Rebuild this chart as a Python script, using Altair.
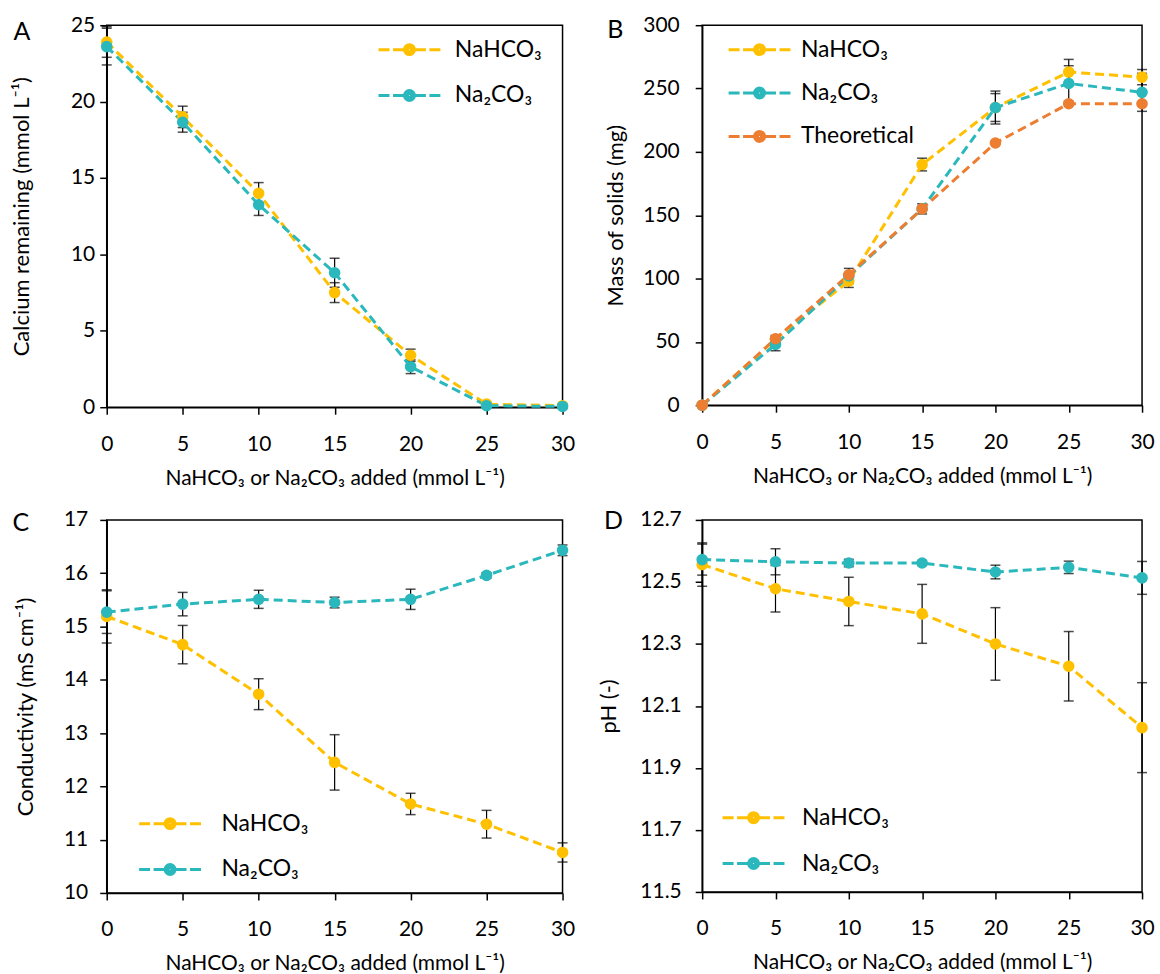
import altair as alt
import pandas as pd

FONT = "Lato, 'DejaVu Sans', sans-serif"

# ---------------- data ----------------
x_vals = [0, 5, 10, 15, 20, 25, 30]
s_bicarb = "NaHCO₃"
s_carb = "Na₂CO₃"
s_theo = "Theoretical"
series_all = [s_bicarb, s_carb, s_theo]
colors_all = ["#FFC000", "#2AB8BC", "#ED7D31"]

# A: calcium remaining (mmol/L)
ca_bicarb = [23.9, 19.0, 14.0, 7.5, 3.4, 0.2, 0.1]
ca_bicarb_err = [1.0, 0.7, 0.7, 0.65, 0.4, 0.05, 0.05]
ca_carb = [23.6, 18.65, 13.25, 8.8, 2.65, 0.1, 0.05]
ca_carb_err = [1.2, 0.65, 0.7, 0.95, 0.45, 0.05, 0.05]

# B: mass of solids (mg)
mass_bicarb = [0, 52, 98, 190, 235, 263, 259]
mass_bicarb_err = [0, 3, 5, 5, 13, 10, 6]
mass_carb = [0, 48, 102, 155, 235, 254, 247]
mass_carb_err = [0, 5, 6, 4, 11, 14, 15]
mass_theo = [0, 52.5, 103, 155, 207, 238, 238]
mass_theo_err = [0, 0, 0, 0, 0, 0, 0]

# C: conductivity (mS/cm)
cond_bicarb = [15.19, 14.66, 13.73, 12.45, 11.67, 11.29, 10.76]
cond_bicarb_err = [0.5, 0.36, 0.29, 0.52, 0.2, 0.26, 0.18]
cond_carb = [15.27, 15.42, 15.51, 15.45, 15.51, 15.96, 16.43]
cond_carb_err = [0.4, 0.22, 0.17, 0.1, 0.19, 0.05, 0.1]

# D: pH
ph_bicarb = [12.556, 12.478, 12.437, 12.397, 12.30, 12.228, 12.03]
ph_bicarb_err = [0.07, 0.075, 0.078, 0.095, 0.117, 0.112, 0.145]
ph_carb = [12.572, 12.565, 12.561, 12.561, 12.532, 12.547, 12.513]
ph_carb_err = [0.05, 0.042, 0.012, 0.008, 0.022, 0.02, 0.053]

x_title = "NaHCO₃ or Na₂CO₃ added (mmol L⁻¹)"


def build_df(series):
    rows = []
    for name, ys, errs in series:
        for xv, yv, ev in zip(x_vals, ys, errs):
            rows.append({"x": xv, "y": yv, "err": ev, "series": name,
                         "lo": yv - ev, "hi": yv + ev})
    return pd.DataFrame(rows)


# legend symbol: dashed line with a filled dot (dot built from concentric stroked rings)
def ring(r):
    return f"M{r:.3f},0A{r:.3f},{r:.3f},0,1,1,{-r:.3f},0A{r:.3f},{r:.3f},0,1,1,{r:.3f},0Z"

LEG_PATH = ("M-4.43,0L-2.86,0M-2.36,0L-0.57,0M0.57,0L2.36,0M2.86,0L4.43,0"
            + ring(0.714) + ring(0.429) + ring(0.143))


def panel(series, ytitle, ydom, yticks, yfmt, width, height, leg, letter, ypad):
    df = build_df(series)
    names = [s[0] for s in series]
    cols = [colors_all[series_all.index(n)] for n in names]
    base = alt.Chart(df)
    X = alt.X("x:Q", title=x_title,
              scale=alt.Scale(domain=[0, 30], nice=False, zero=False),
              axis=alt.Axis(values=x_vals, labelFlush=False, labelOverlap=False))
    Y = alt.Y("y:Q", title=ytitle,
              scale=alt.Scale(domain=ydom, nice=False, zero=False),
              axis=alt.Axis(values=yticks, format=yfmt, labelOverlap=False,
                            labelPadding=ypad[0], titlePadding=ypad[1]))
    eb = base.transform_filter("datum.err > 0")
    rules = eb.mark_rule(color="black", strokeWidth=1.2).encode(
        x="x:Q", y="lo:Q", y2="hi:Q")
    cap_lo = eb.mark_tick(orient="horizontal", color="black", size=10, thickness=1.5).encode(
        x="x:Q", y="lo:Q")
    cap_hi = eb.mark_tick(orient="horizontal", color="black", size=10, thickness=1.5).encode(
        x="x:Q", y="hi:Q")
    line = base.mark_line(strokeDash=[9, 5], strokeWidth=3).encode(
        x=X, y=Y,
        color=alt.Color("series:N", sort=names,
                        scale=alt.Scale(domain=names, range=cols),
                        legend=alt.Legend(
                            title=None, orient="none",
                            legendX=leg["x"], legendY=leg["y"],
                            symbolType=LEG_PATH, symbolSize=196,
                            symbolStrokeWidth=3, symbolOpacity=1,
                            labelFont=FONT, labelFontSize=23, labelColor="black",
                            labelOffset=leg["lo"], rowPadding=leg["rp"],
                            padding=0)),
        detail="series:N")
    pts = base.mark_circle(size=135, opacity=1).encode(
        x="x:Q", y="y:Q",
        fill=alt.Fill("series:N", scale=alt.Scale(domain=series_all, range=colors_all),
                      legend=None))
    lt = alt.Chart(pd.DataFrame({"t": [letter["t"]]})).mark_text(
        font=FONT, fontSize=25, color="black", align="center", baseline="middle"
    ).encode(text="t:N", x=alt.value(letter["x"]), y=alt.value(letter["y"]))
    return alt.layer(rules, cap_lo, cap_hi, line, pts, lt).properties(
        width=width, height=height)


pA = panel([(s_bicarb, ca_bicarb, ca_bicarb_err), (s_carb, ca_carb, ca_carb_err)],
           "Calcium remaining (mmol L⁻¹)", [0, 25], [0, 5, 10, 15, 20, 25], "d",
           457, 383, {"x": 292, "y": 13, "lo": 34, "rp": 22}, {"t": "A", "x": -85, "y": 7},
           (5, 37))
pB = panel([(s_bicarb, mass_bicarb, mass_bicarb_err), (s_carb, mass_carb, mass_carb_err),
            (s_theo, mass_theo, mass_theo_err)],
           "Mass of solids (mg)", [0, 300], [0, 50, 100, 150, 200, 250, 300], "d",
           441, 381, {"x": 46, "y": 13, "lo": 30, "rp": 19.5}, {"t": "B", "x": -87, "y": 5},
           (16, 15))
pC = panel([(s_bicarb, cond_bicarb, cond_bicarb_err), (s_carb, cond_carb, cond_carb_err)],
           "Conductivity (mS cm⁻¹)", [10, 17], [10, 11, 12, 13, 14, 15, 16, 17], "d",
           457, 374, {"x": 52, "y": 293, "lo": 40, "rp": 22}, {"t": "C", "x": -86, "y": 3},
           (12, 26))
pD = panel([(s_bicarb, ph_bicarb, ph_bicarb_err), (s_carb, ph_carb, ph_carb_err)],
           "pH (-)", [11.5, 12.7], [11.5, 11.7, 11.9, 12.1, 12.3, 12.5, 12.7], ".1f",
           441, 373, {"x": 40, "y": 287, "lo": 37, "rp": 22}, {"t": "D", "x": -89, "y": 1},
           (14, 19))

chart = alt.concat(pA, pB, pC, pD, columns=2,
                   spacing={"row": 113, "column": 140}, bounds="flush"
).resolve_scale(color="independent").resolve_legend(color="independent").properties(
    padding={"left": 9, "top": 12, "right": 5, "bottom": 2}
).configure_view(stroke="black", strokeWidth=1.5).configure_axis(
    domainColor="black", domainWidth=1.5, tickColor="black", tickWidth=1.5, tickSize=7,
    labelFont=FONT, labelFontSize=21, labelColor="black",
    titleFont=FONT, titleFontSize=21, titleFontWeight="normal", titleColor="black",
    grid=False
).configure_axisX(labelPadding=19, titlePadding=13).configure_axisY(titleFontSize=22)

chart.save("out.html", embed_options={"renderer": "svg", "actions": False})
